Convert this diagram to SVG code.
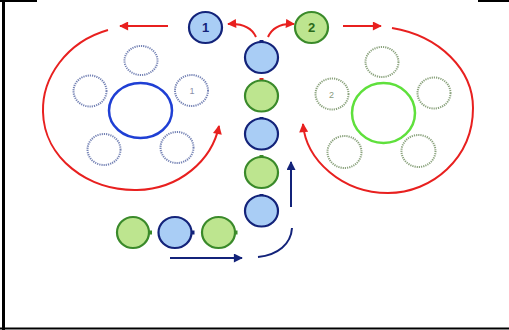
<svg xmlns="http://www.w3.org/2000/svg" width="509" height="330" viewBox="0 0 509 330">
<style>
.frame{stroke:#000;stroke-width:2;fill:none}
.bn{fill:#a9cdf5;stroke:#13237a;stroke-width:2.2}
.gn{fill:#bde58f;stroke:#3a8a2a;stroke-width:2.2}
.bt{fill:#13237a}
.gt{fill:#3a8a2a}
.dotb{fill:none;stroke:#7482b4;stroke-width:2;stroke-dasharray:1.2 1}
.dotg{fill:none;stroke:#8aa27c;stroke-width:2;stroke-dasharray:1.2 1}
.red{fill:none;stroke:#e8201f;stroke-width:2}
.blu{fill:none;stroke:#13237a;stroke-width:2}
.lbl{font-family:"Liberation Sans",Arial,sans-serif;font-weight:bold;font-size:13px;text-anchor:middle}
.sm{font-family:"Liberation Sans",Arial,sans-serif;font-size:9px;text-anchor:middle}
</style>
<defs>
<marker id="ar" viewBox="0 0 10 10" refX="9" refY="5" markerWidth="5" markerHeight="4.5" orient="auto" markerUnits="strokeWidth"><path d="M0,0L10,5L0,10z" fill="#e8201f"/></marker>
<marker id="ab" viewBox="0 0 10 10" refX="9" refY="5" markerWidth="5" markerHeight="4.5" orient="auto" markerUnits="strokeWidth"><path d="M0,0L10,5L0,10z" fill="#13237a"/></marker>
</defs>
<rect width="509" height="330" fill="#fff"/>
<g id="frame">
<line x1="3.5" y1="0" x2="3.5" y2="330" stroke="#000" stroke-width="3"/>
<line class="frame" x1="0" y1="1" x2="37" y2="1"/>
<line class="frame" x1="478" y1="1" x2="509" y2="1"/>
<line class="frame" x1="0" y1="328.5" x2="509" y2="328.5"/>
</g>
<g id="connectors">
<path class="red" d="M168,26 L120,26" marker-end="url(#ar)"/>
<path class="red" d="M108,30 C66,42 42,78 43,112 C44,158 88,191 137,190 C180,189 212,160 219,126" marker-end="url(#ar)"/>
<path class="red" d="M343,26 L381,26" marker-end="url(#ar)"/>
<path class="red" d="M392,28 C440,36 473,70 473,108 C473,158 432,193 388,193 C342,193 306,160 303,124" marker-end="url(#ar)"/>
<path class="red" d="M256,37 C252,28 244,23 228,24" marker-end="url(#ar)"/>
<path class="red" d="M268,37 C272,28 280,23 294,24" marker-end="url(#ar)"/>
<path class="blu" d="M170,258 L242,258" marker-end="url(#ab)"/>
<path class="blu" d="M258,257 C278,255 291,244 292,228"/>
<path class="blu" d="M291,207 L291,162" marker-end="url(#ab)"/>
</g>
<g id="node-1"><ellipse class="bn" cx="205.5" cy="27.5" rx="16.5" ry="15.5"/><text class="lbl" x="205.5" y="32" fill="#13237a">1</text></g>
<g id="node-2"><ellipse class="gn" cx="311.5" cy="27.5" rx="16.5" ry="15.5"/><text class="lbl" x="311.5" y="32" fill="#2a6a1a">2</text></g>
<g id="col-1"><rect class="bt" x="259.5" y="40" width="4" height="3"/><ellipse class="bn" cx="261.5" cy="57.5" rx="16.5" ry="15.5"/></g>
<g id="col-2"><rect x="259.5" y="78" width="4" height="3" fill="#e8201f"/><ellipse class="gn" cx="261.5" cy="96" rx="16.5" ry="15.5"/></g>
<g id="col-3"><rect class="bt" x="259.5" y="117" width="4" height="3"/><ellipse class="bn" cx="261.5" cy="134" rx="16.5" ry="15.5"/></g>
<g id="col-4"><rect class="gt" x="259.5" y="155" width="4" height="3"/><ellipse class="gn" cx="261.5" cy="172.5" rx="16.5" ry="15.5"/></g>
<g id="col-5"><rect class="bt" x="259.5" y="194" width="4" height="3"/><ellipse class="bn" cx="261.5" cy="211" rx="16.5" ry="15.5"/></g>
<g id="row-1"><rect class="gt" x="149" y="230.5" width="3" height="4"/><ellipse class="gn" cx="133" cy="232.5" rx="16" ry="15.5"/></g>
<g id="row-2"><rect class="bt" x="191.5" y="230.5" width="3" height="4"/><ellipse class="bn" cx="175" cy="232.5" rx="16.5" ry="15.5"/></g>
<g id="row-3"><rect class="gt" x="234.5" y="230.5" width="3" height="4"/><ellipse class="gn" cx="218.5" cy="232.5" rx="16.5" ry="15.5"/></g>
<g id="cluster-1">
<ellipse cx="140.5" cy="110.5" rx="31.5" ry="27.5" fill="none" stroke="#1f3fd4" stroke-width="2.5"/>
<ellipse class="dotb" cx="141" cy="60.5" rx="16.5" ry="14.5"/>
<ellipse class="dotb" cx="90" cy="91" rx="16.5" ry="15.5"/>
<ellipse class="dotb" cx="191.5" cy="90.5" rx="16.5" ry="15.5"/>
<text class="sm" x="192" y="94" fill="#8a90a8">1</text>
<ellipse class="dotb" cx="104" cy="149.5" rx="16.5" ry="15.5"/>
<ellipse class="dotb" cx="177" cy="147.5" rx="16.5" ry="15.5"/>
</g>
<g id="cluster-2">
<ellipse cx="383.5" cy="113" rx="31.5" ry="30" fill="none" stroke="#5fe03c" stroke-width="2.5"/>
<ellipse class="dotg" cx="382" cy="62" rx="16.5" ry="15"/>
<ellipse class="dotg" cx="332" cy="94" rx="16.5" ry="15.5"/>
<text class="sm" x="331.5" y="97.5" fill="#8a9a80">2</text>
<ellipse class="dotg" cx="434" cy="93" rx="16.5" ry="15.5"/>
<ellipse class="dotg" cx="344.5" cy="152" rx="17" ry="16"/>
<ellipse class="dotg" cx="418.5" cy="151" rx="17" ry="16"/>
</g>
</svg>
